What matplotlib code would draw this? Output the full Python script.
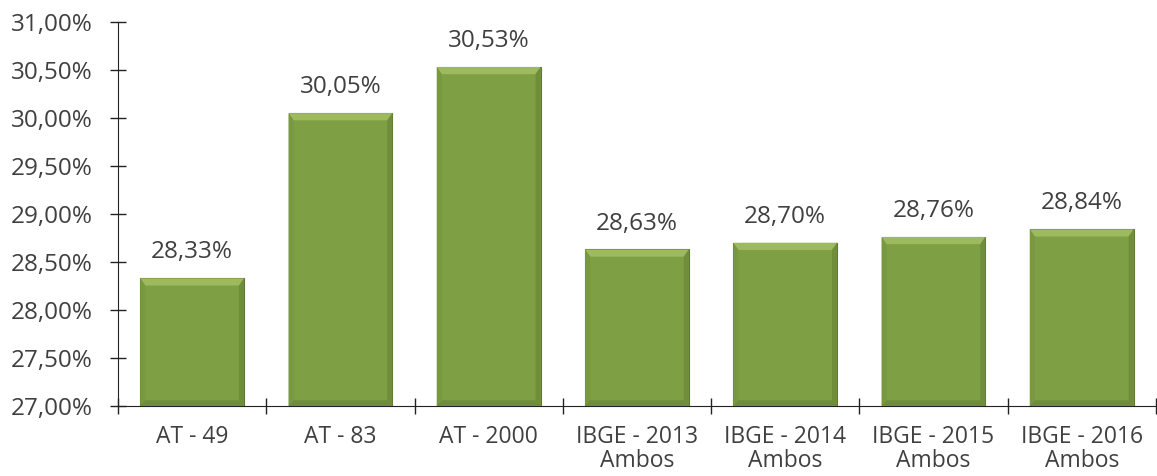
import numpy as np
import matplotlib.pyplot as plt
from matplotlib.patches import Polygon

categories = ["AT - 49", "AT - 83", "AT - 2000", "IBGE - 2013\nAmbos",
              "IBGE - 2014\nAmbos", "IBGE - 2015\nAmbos", "IBGE - 2016\nAmbos"]
values = [28.33, 30.05, 30.53, 28.63, 28.70, 28.76, 28.84]
yticks = [27.0, 27.5, 28.0, 28.5, 29.0, 29.5, 30.0, 30.5, 31.0]

plt.rcParams['font.family'] = ['Open Sans', 'DejaVu Sans']
text_color = '#404040'

fig = plt.figure(figsize=(11.57, 4.76), dpi=100)
ax = fig.add_axes([0.102, 0.147, 0.897, 0.807])

x = np.arange(len(categories))
bars = ax.bar(x, [v - 27.0 for v in values], bottom=27.0, width=0.70,
              color='#7F9F45', edgecolor='#5F7A30', linewidth=0.8, zorder=2)

# bevel effect: lighter top strip, darker side/bottom strips
bev_x = 0.034
bev_top = 0.075
bev_bot = 0.06
for b in bars:
    x0, y0 = b.get_x(), b.get_y()
    x1, y1 = x0 + b.get_width(), y0 + b.get_height()
    top = Polygon([(x0, y1), (x1, y1), (x1 - bev_x, y1 - bev_top), (x0 + bev_x, y1 - bev_top)],
                  closed=True, facecolor='#9DBA5E', edgecolor='none', zorder=3)
    left = Polygon([(x0, y0), (x0, y1), (x0 + bev_x, y1 - bev_top), (x0 + bev_x, y0 + bev_bot)],
                   closed=True, facecolor='#789841', edgecolor='none', zorder=3)
    right = Polygon([(x1, y0), (x1, y1), (x1 - bev_x, y1 - bev_top), (x1 - bev_x, y0 + bev_bot)],
                    closed=True, facecolor='#6F8D3A', edgecolor='none', zorder=3)
    bottom = Polygon([(x0, y0), (x1, y0), (x1 - bev_x, y0 + bev_bot), (x0 + bev_x, y0 + bev_bot)],
                     closed=True, facecolor='#6E8C39', edgecolor='none', zorder=3)
    for p in (top, left, right, bottom):
        ax.add_patch(p)

for xi, v in zip(x, values):
    ax.annotate(f"{v:.2f}%".replace('.', ','), (xi, v), xytext=(0, 10),
                textcoords='offset points', ha='center', va='bottom',
                fontsize=17.5, color=text_color)

ax.set_xlim(-0.5, len(categories) - 0.5)
ax.set_ylim(27.0, 31.0)
ax.set_yticks(yticks)
ax.set_yticklabels([f"{t:.2f}%".replace('.', ',') for t in yticks])
ax.set_xticks(x)
ax.set_xticklabels(categories, linespacing=1.0)
ax.set_xticks(np.arange(-0.5, len(categories)), minor=True)

ax.tick_params(axis='y', direction='inout', length=12, width=1, colors='#222222',
               labelcolor=text_color, labelsize=17.5, pad=12)
ax.tick_params(axis='x', which='major', length=0, labelsize=16.5, labelcolor=text_color, pad=14)
ax.tick_params(axis='x', which='minor', direction='inout', length=12, width=1, colors='#222222')

for s in ['top', 'right']:
    ax.spines[s].set_visible(False)
ax.spines['left'].set_color('#222222')
ax.spines['bottom'].set_color('#222222')

fig.savefig('out.png', dpi=100)
